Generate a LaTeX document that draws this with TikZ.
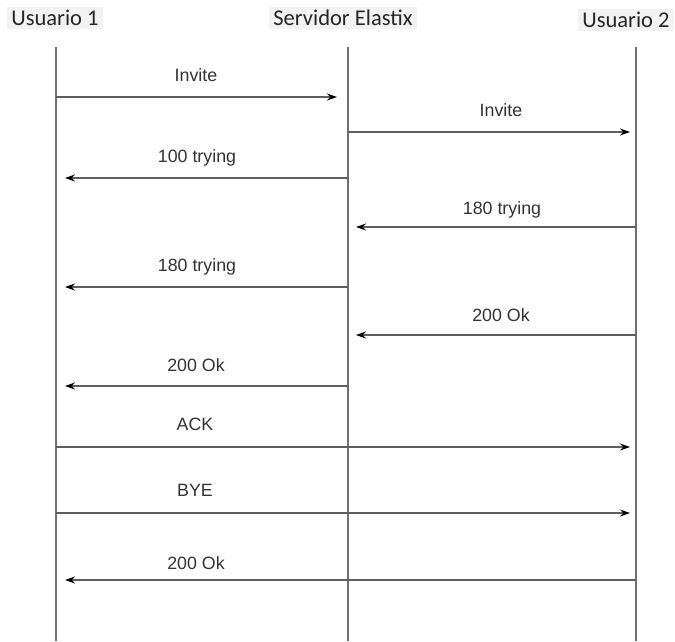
\documentclass[tikz,border=0pt]{standalone}
\usepackage{fontspec}
\setmainfont{Liberation Sans}
\newfontfamily\headfont{Carlito}
\usetikzlibrary{arrows.meta}
\definecolor{lifegray}{HTML}{707070}
\definecolor{msggray}{HTML}{5E5E5E}
\definecolor{txtgray}{HTML}{333333}
\definecolor{headbg}{HTML}{F2F2F2}
\begin{document}
\begin{tikzpicture}[x=1pt,y=-1pt,
  head/.style={font=\headfont\fontsize{22.5}{26}\selectfont, text=black!85, fill=headbg, inner xsep=4pt, inner ysep=3pt},
  lifeline/.style={draw=lifegray, line width=1.9pt},
  msg/.style={draw=msggray, line width=1.5pt, -{Stealth[length=10pt,width=7pt,fill=black,color=black]}},
  msglabel/.style={font=\fontsize{17.8}{20}\selectfont, text=txtgray, inner sep=0pt}]
\useasboundingbox (0,0) rectangle (675,641);
\fill[white] (0,0) rectangle (675,641);
% headers
\node[head] (h1) at (55,18) {Usuario 1};
\node[head] (h2) at (343,18) {Servidor Elastix};
\node[head] (h3) at (626,20) {Usuario 2};
% lifelines
\coordinate (t1) at (56,47); \coordinate (b1) at (56,641);
\coordinate (t2) at (348,47); \coordinate (b2) at (348,641);
\coordinate (t3) at (636,47); \coordinate (b3) at (636,641);
\draw[lifeline] (t1) -- (b1);
\draw[lifeline] (t2) -- (b2);
\draw[lifeline] (t3) -- (b3);
% message anchor points
\foreach \n/\y in {1/97,2/132,3/178,4/227,5/287,6/335,7/386,8/447,9/513,10/580}{
  \coordinate (a\n) at (56,\y);
  \coordinate (s\n) at (348,\y);
  \coordinate (c\n) at (636,\y);
}
% messages
\draw[msg, shorten >=11pt] (a1) -- (s1);
\node[msglabel] (l1) at (196,75) {Invite};
\draw[msg, shorten >=6pt] (s2) -- (c2);
\node[msglabel] (l2) at (501,110) {Invite};
\draw[msg, shorten >=9pt] (s3) -- (a3);
\node[msglabel] (l3) at (197,158) {100 trying};
\draw[msg, shorten >=8pt] (c4) -- (s4);
\node[msglabel] (l4) at (502,210) {180 trying};
\draw[msg, shorten >=9pt] (s5) -- (a5);
\node[msglabel] (l5) at (197,267) {180 trying};
\draw[msg, shorten >=8pt] (c6) -- (s6);
\node[msglabel] (l6) at (501,315) {200 Ok};
\draw[msg, shorten >=9pt] (s7) -- (a7);
\node[msglabel] (l7) at (196,365) {200 Ok};
\draw[msg, shorten >=6pt] (a8) -- (c8);
\node[msglabel] (l8) at (195,424) {ACK};
\draw[msg, shorten >=6pt] (a9) -- (c9);
\node[msglabel] (l9) at (195,490) {BYE};
\draw[msg, shorten >=9pt] (c10) -- (a10);
\node[msglabel] (l10) at (196,563) {200 Ok};
\end{tikzpicture}
\end{document}
